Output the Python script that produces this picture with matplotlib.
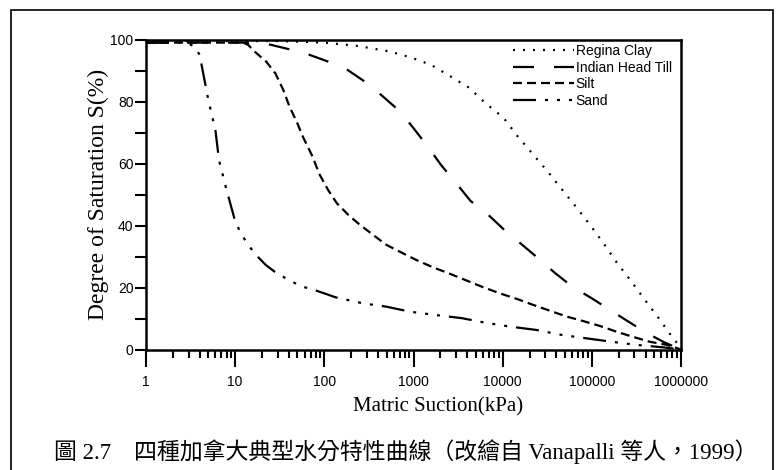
import matplotlib
matplotlib.use("Agg")
import matplotlib.pyplot as plt
from matplotlib import font_manager
from matplotlib.patches import Rectangle
from matplotlib.ticker import FixedLocator, NullFormatter

# suction values in kPa, degree of saturation in %
clay_x = [1, 31.6, 100, 240, 550, 955, 1580, 2630, 4170, 6460, 10200, 14500, 21400,
          31600, 45700, 66100, 95500, 135000, 191000, 275000, 389000, 562000, 794000, 1000000]
clay_y = [99.5, 99.5, 99, 97.9, 96.1, 94.1, 91.8, 88, 84.5, 79.4, 74.8, 69, 63.3,
          57.6, 51.8, 46.1, 40.2, 34.3, 28, 22.1, 16.2, 10.1, 4.1, 0.5]

till_x = [1, 12.6, 23.4, 39.8, 66, 112, 182, 295, 447, 631, 794, 1000, 1450, 2040, 3020,
          4370, 6920, 10500, 16200, 25100, 38900, 60300, 100000, 155000, 257000, 407000,
          661000, 1000000]
till_y = [99, 99, 98.5, 96.9, 95.2, 92.8, 90.2, 86.1, 81.8, 78, 75, 71.4, 65.4, 59.5, 53.6,
          47.9, 43.4, 38.5, 34, 29.4, 24.6, 20.3, 16.5, 13, 9, 5.4, 2.2, 0]

silt_x = [1, 12.3, 14.1, 15.8, 22.4, 28.2, 34.7, 40.7, 49, 57.5, 72.4, 89, 110, 138, 186,
          251, 355, 500, 708, 1070, 1660, 2570, 3980, 6030, 9330, 14500, 21900, 33900,
          52500, 79400, 123000, 191000, 288000, 447000, 692000, 1000000]
silt_y = [99, 99, 98.2, 96.6, 92.8, 89.1, 83.7, 78.3, 73.5, 68.6, 62.7, 56.3, 51.5, 47.2,
          43.4, 40.2, 36.9, 33.7, 31.5, 28.9, 26.5, 24.4, 22.2, 20.1, 18.1, 16.3, 14.4,
          12.5, 10.6, 9.2, 7.6, 5.7, 4.1, 2.5, 1.5, 0]

sand_x = [1, 2.8, 3.5, 4, 5, 6, 6.6, 8, 9.8, 11.3, 14, 17.8, 22, 28, 40, 56, 74, 135, 270,
          500, 910, 1800, 3500, 6500, 12000, 24000, 46000, 87000, 166000, 316000, 630000,
          1000000]
sand_y = [99, 99, 97.8, 95, 80.5, 70.8, 61, 51.5, 42.3, 38, 33.7, 30, 27.3, 25, 22.4, 20.3,
          19.4, 16.8, 14.9, 13.8, 12.2, 11.1, 10.1, 8.6, 7.4, 6.3, 4.7, 3.6, 2.5, 1.5, 0.7, 0]

x_major = [1, 10, 100, 1000, 10000, 100000, 1000000]
x_labels = ["1", "10", "100", "1000", "10000", "100000", "1000000"]
y_major = [0, 20, 40, 60, 80, 100]

caption = "圖 2.7\u3000四種加拿大典型水分特性曲線（改繪自 Vanapalli 等人，1999）"


def px(values):
    # dash lengths given in pixels -> points
    return tuple(v * 0.72 for v in values)


def main():
    plt.rcParams["lines.scale_dashes"] = False
    names = {f.name for f in font_manager.fontManager.ttflist}
    sans = "Liberation Sans Narrow" if "Liberation Sans Narrow" in names else "Liberation Sans"
    small = 11.5 if sans == "Liberation Sans Narrow" else 10

    fig = plt.figure(figsize=(7.77, 4.70), dpi=100)
    ax = fig.add_axes([146 / 777, 1 - 349.5 / 470, 535 / 777, 310 / 470])

    ax.plot(clay_x, clay_y, color="black", lw=1.6, linestyle=(0, px([2, 8])),
            dash_capstyle="butt", label="Regina Clay")
    ax.plot(till_x, till_y, color="black", lw=1.6, linestyle=(0, px([21, 20])),
            label="Indian Head Till")
    ax.plot(silt_x, silt_y, color="black", lw=1.6, linestyle=(0, px([9, 5])),
            label="Silt")
    ax.plot(sand_x, sand_y, color="black", lw=1.6,
            linestyle=(0, px([23, 9, 3, 9, 3, 9, 3, 9])), label="Sand")

    ax.set_xscale("log")
    ax.set_xlim(1, 1000000)
    ax.set_ylim(0, 100)

    ax.set_xticks(x_major)
    ax.set_xticklabels(x_labels)
    minors = [m * d for d in x_major[:-1] for m in range(2, 10)]
    ax.xaxis.set_minor_locator(FixedLocator(minors))
    ax.xaxis.set_minor_formatter(NullFormatter())
    ax.set_yticks(y_major)
    ax.set_yticks([10, 30, 50, 70, 90], minor=True)

    ax.tick_params(axis="both", labelsize=small, labelfontfamily=sans)
    ax.tick_params(axis="x", which="major", direction="out", length=12, width=1.5, pad=6)
    ax.tick_params(axis="x", which="minor", direction="out", length=6, width=1.5)
    ax.tick_params(axis="y", which="major", direction="out", length=8, width=1.5, pad=1)
    ax.tick_params(axis="y", which="minor", direction="out", length=8, width=1.5)
    for spine in ax.spines.values():
        spine.set_linewidth(1.8)

    ax.set_ylabel("Degree of Saturation S(%)", family="Liberation Serif", fontsize=17)
    ax.yaxis.set_label_coords(-0.07, 0.5)
    fig.text(438 / 777, 1 - 407 / 470, "Matric Suction(kPa)", family="Liberation Serif",
             fontsize=15, ha="center", va="center")

    ax.legend(loc="upper left", bbox_to_anchor=(0.686, 0.985), frameon=False,
              prop={"family": sans, "size": small}, handlelength=4.4,
              handletextpad=0.1, labelspacing=0.18, borderpad=0, borderaxespad=0)

    fig.text(406 / 777, 1 - 452 / 470, caption, family=["Liberation Serif", "Noto Sans CJK TC"],
             fontsize=16.5, ha="center", va="center")

    fig.add_artist(Rectangle((10.5 / 777, -0.1), 762 / 777, 1.1 - 10 / 470,
                             transform=fig.transFigure, fill=False, lw=1.2,
                             edgecolor="black"))

    fig.savefig("out.png", dpi=100)


if __name__ == "__main__":
    main()
